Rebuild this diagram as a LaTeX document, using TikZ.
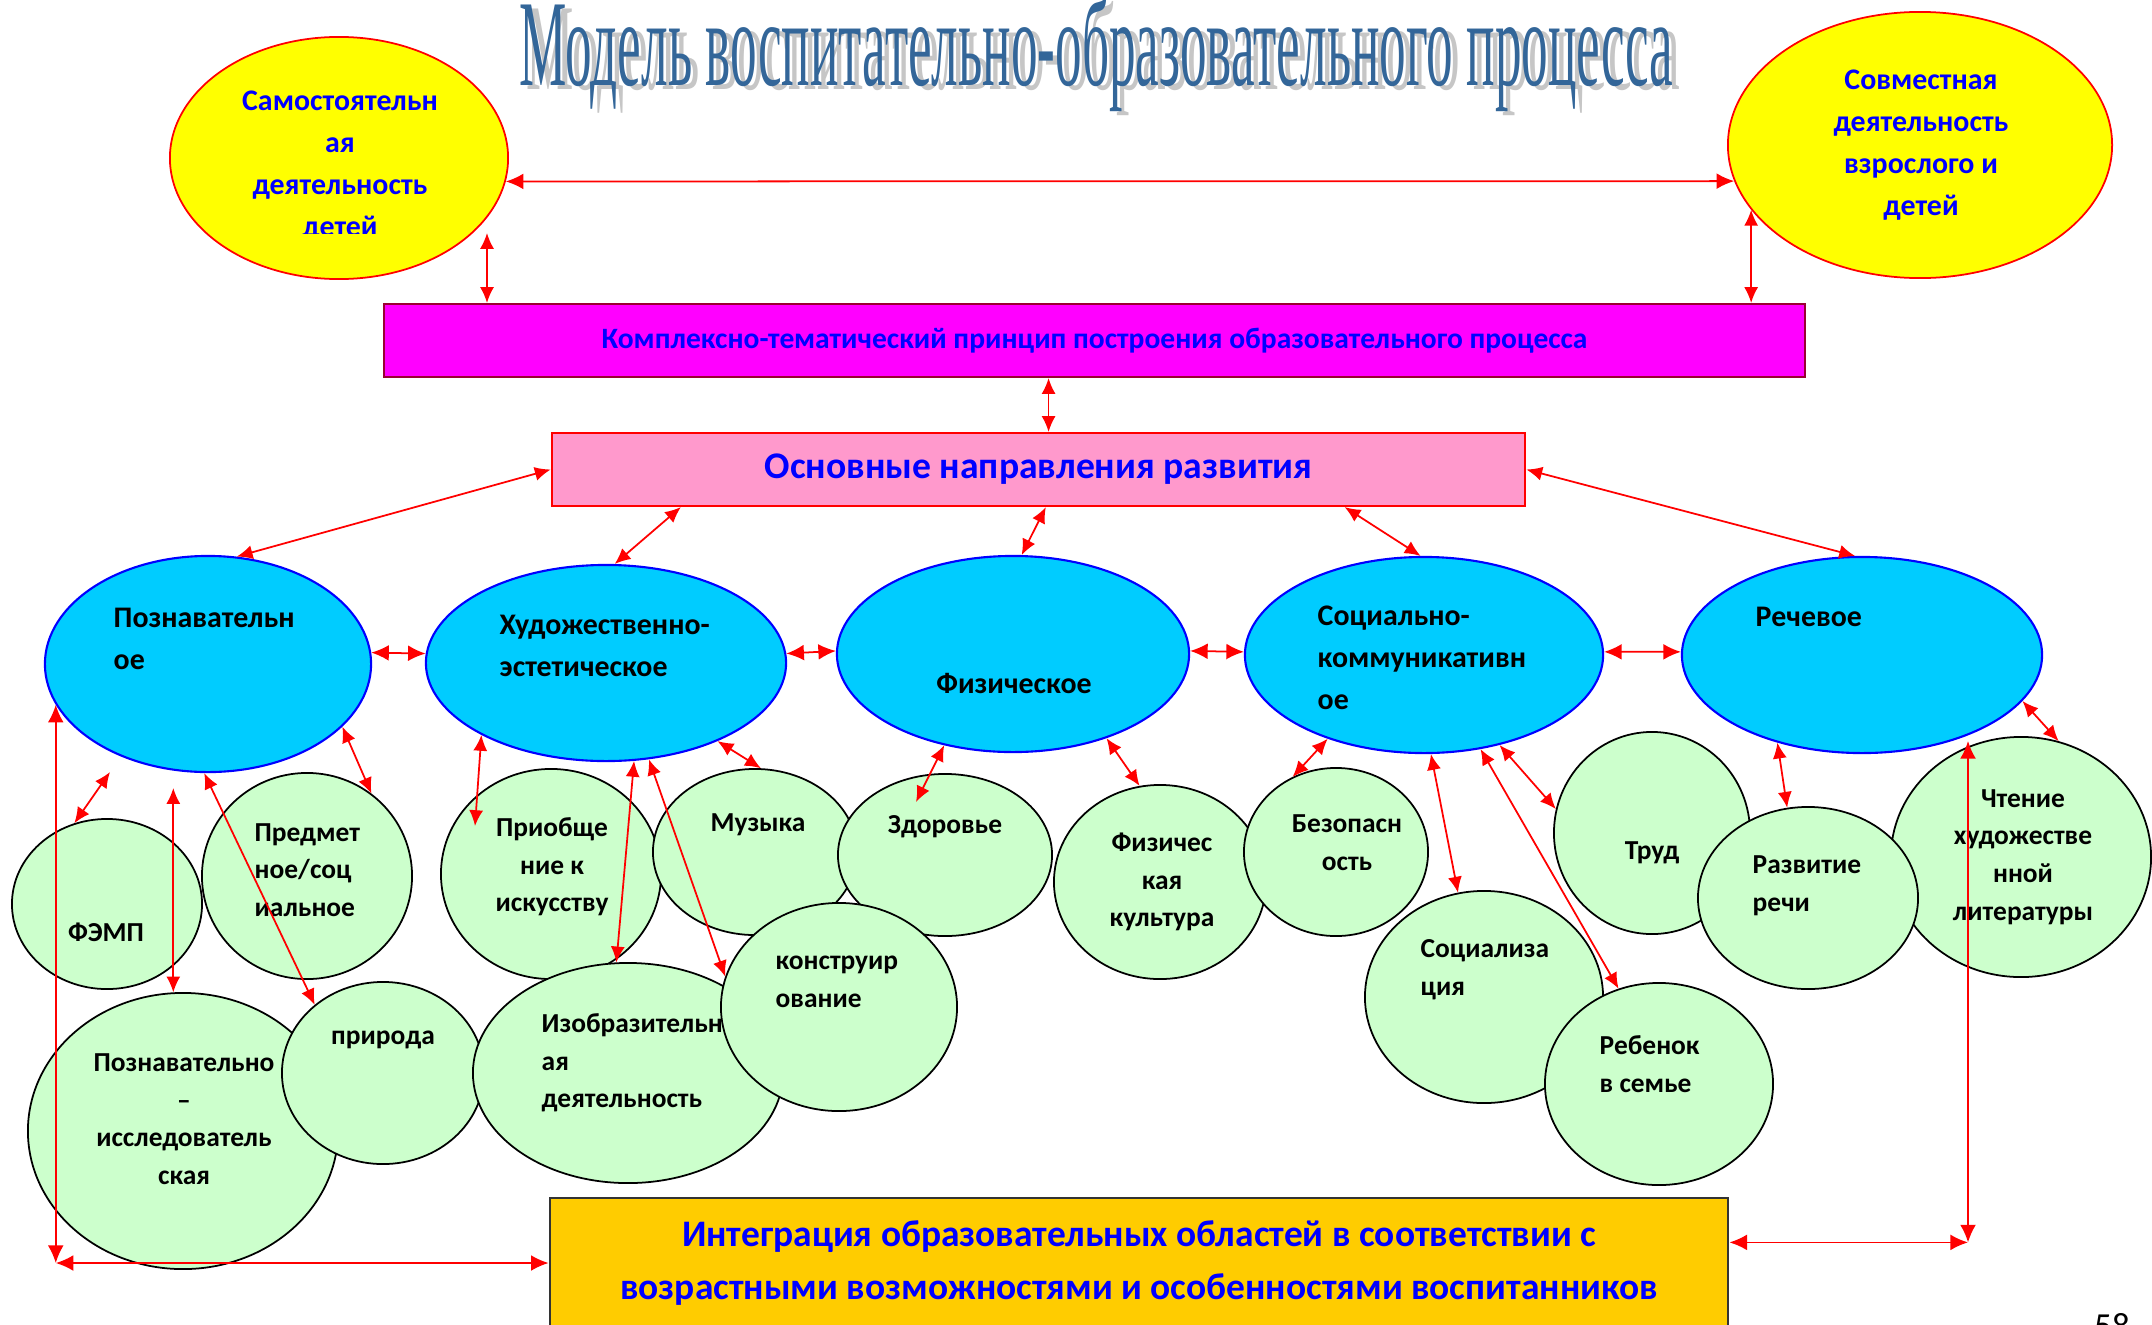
\documentclass[tikz,border=0pt]{standalone}
\usepackage{fontspec}
\setmainfont{Carlito}
\newfontfamily\titlefont{Liberation Serif}
\usepackage{graphicx}
\usetikzlibrary{arrows.meta,shapes.geometric}
\definecolor{skyblue}{HTML}{00CCFF}
\definecolor{lgreen}{HTML}{CCFFCC}
\definecolor{pinkbox}{HTML}{FF99CC}
\definecolor{goldbox}{HTML}{FFCC00}
\definecolor{lemon}{HTML}{FFFF00}
\definecolor{fuchsia}{HTML}{FF00FF}
\definecolor{titleblue}{HTML}{336699}
\definecolor{boxbrown}{HTML}{990033}
\definecolor{pureblue}{HTML}{0000FF}
\definecolor{purered}{HTML}{FF0000}

\begin{document}
\begin{tikzpicture}[x=0.01cm, y=-0.01cm,
  yell/.style={ellipse, draw=purered, fill=lemon, line width=0.5pt, inner sep=0pt},
  bell/.style={ellipse, draw=pureblue, fill=skyblue, line width=0.6pt, inner sep=0pt},
  gell/.style={ellipse, draw=black, fill=lgreen, line width=0.5pt, inner sep=0pt},
  btxt/.style={font=\bfseries\fontsize{8.5}{11.9}\selectfont, inner sep=0pt},
  gtxt/.style={font=\bfseries\fontsize{7.8}{10.7}\selectfont, align=center, inner sep=0pt},
  ytxt/.style={text=pureblue, font=\bfseries\fontsize{8.5}{11.9}\selectfont, align=center, inner sep=0pt},
  arr/.style={draw=purered, line width=0.5pt, >={Latex[length=4.5pt,width=4pt]}, <->},
  bigarr/.style={arr, >={Latex[length=5pt,width=4.5pt]}}]
\useasboundingbox (0,0) rectangle (2152,1324);

\node[anchor=base west, inner sep=0pt, text=gray!45] (titsh) at (526,90) {\resizebox{11.53cm}{0.88cm}{\titlefont Модель воспитательно-образовательного процесса}};
\node[anchor=base west, inner sep=0pt, text=titleblue] (title) at (519,85) {\resizebox{11.53cm}{0.88cm}{\titlefont Модель воспитательно-образовательного процесса}};

\node[yell, minimum width=3.38cm, minimum height=2.42cm] (samd) at (339,158) {};
\begin{scope}
\clip (170,40) rectangle (510,233);
\node[ytxt] (samdt) at (340,166) {Самостоятельн\\ая\\деятельность\\детей};
\end{scope}
\node[yell, minimum width=3.84cm, minimum height=2.66cm] (sovm) at (1920,145) {};
\node[ytxt] (sovmt) at (1921,145) {Совместная\\деятельность\\взрослого и\\детей};

\node[draw=boxbrown, fill=fuchsia, line width=0.6pt, minimum width=14.21cm, minimum height=0.73cm, inner sep=0pt, text=pureblue, font=\bfseries\fontsize{8.4}{10}\selectfont] (kompl) at (1094.5,340.5) {Комплексно-тематический принцип построения образовательного процесса};
\node[draw=purered, fill=pinkbox, line width=0.6pt, minimum width=9.73cm, minimum height=0.73cm, inner sep=0pt, text=pureblue, font=\bfseries\fontsize{10.7}{13}\selectfont] (osn) at (1038.5,469.5) {Основные направления развития};
\node[draw=black!80, fill=goldbox, line width=0.6pt, minimum width=11.78cm, minimum height=1.30cm, inner sep=0pt, align=center, text=pureblue, font=\bfseries\fontsize{10.65}{14.8}\selectfont] (integ) at (1139,1263) {Интеграция образовательных областей в соответствии с\\возрастными возможностями и особенностями воспитанников};

\node[bell, minimum width=3.26cm, minimum height=2.16cm] (pozn) at (208,664) {};
\node[btxt, anchor=west, align=left] (poznt) at (113,639) {Познавательн\\ое};
\node[bell, minimum width=3.60cm, minimum height=1.96cm] (hud) at (606,663) {};
\node[btxt, anchor=west, align=left] (hudt) at (499,646) {Художественно-\\эстетическое};
\node[bell, minimum width=3.52cm, minimum height=1.96cm] (fiz) at (1013,654) {};
\node[btxt] (fizt) at (1014,683) {Физическое};
\node[bell, minimum width=3.58cm, minimum height=1.96cm] (soc) at (1424,655) {};
\node[btxt, anchor=west, align=left] (soct) at (1317,658) {Социально-\\коммуникативн\\ое};
\node[bell, minimum width=3.60cm, minimum height=1.96cm] (rech) at (1862,655) {};
\node[btxt, anchor=west] (recht) at (1755,617) {Речевое};

\node[gell, minimum width=1.90cm, minimum height=1.70cm] (fem) at (107,904) {};
\node[gtxt] (femt) at (106,932) {ФЭМП};
\node[gell, minimum width=2.10cm, minimum height=2.06cm] (pred) at (307,876) {};
\node[gtxt, anchor=west, align=left] (predt) at (254,870) {Предмет\\ное/соц\\иальное};
\node[gell, minimum width=3.10cm, minimum height=2.76cm] (pi) at (183,1131) {};
\node[gtxt] (pit) at (184,1119) {Познавательно\\–\\исследователь\\ская};
\node[gell, minimum width=2.02cm, minimum height=1.82cm] (prir) at (383,1073) {};
\node[gtxt] (prirt) at (383,1040) {природа};
\node[gell, minimum width=2.20cm, minimum height=2.10cm] (priob) at (551,874) {};
\node[gtxt] (priobt) at (552,867) {Приобще\\ние к\\искусству};
\node[gell, minimum width=3.10cm, minimum height=2.20cm] (izo) at (628,1073) {};
\node[gtxt, anchor=west, align=left] (izot) at (541,1063) {Изобразительн\\ая\\деятельность};
\node[gell, minimum width=2.04cm, minimum height=1.66cm] (muz) at (755,852) {};
\node[gtxt] (muzt) at (758,825) {Музыка};
\node[gell, minimum width=2.14cm, minimum height=1.62cm] (zdor) at (945,855) {};
\node[gtxt] (zdort) at (945,827) {Здоровье};
\node[gell, minimum width=2.36cm, minimum height=2.08cm] (konstr) at (839,1007) {};
\node[gtxt, anchor=west, align=left] (konstrt) at (775,982) {конструир\\ование};
\node[gell, minimum width=2.12cm, minimum height=1.94cm] (fizk) at (1160,882) {};
\node[gtxt] (fizkt) at (1162,882) {Физичес\\кая\\культура};
\node[gell, minimum width=1.84cm, minimum height=1.68cm] (bez) at (1336,852) {};
\node[gtxt] (bezt) at (1347,843) {Безопасн\\ость};
\node[gell, minimum width=2.38cm, minimum height=2.12cm] (socz) at (1484,997) {};
\node[gtxt, anchor=west, align=left] (sczt) at (1420,970) {Социализа\\ция};
\node[gell, minimum width=2.28cm, minimum height=2.02cm] (reb) at (1659,1084) {};
\node[gtxt, anchor=west, align=left] (rebt) at (1599,1064) {Ребенок\\в семье};
\node[gell, minimum width=1.96cm, minimum height=2.02cm] (trud) at (1652,833) {};
\node[gtxt] (trudt) at (1652,853) {Труд};
\node[gell, minimum width=2.60cm, minimum height=2.40cm] (cht) at (2021,857) {};
\node[gtxt] (chtt) at (2023,857) {Чтение\\художестве\\нной\\литературы};
\node[gell, minimum width=2.20cm, minimum height=1.82cm] (razv) at (1808,898) {};
\node[gtxt, anchor=west, align=left] (razvt) at (1752,886) {Развитие\\речи};

\node[font=\fontsize{10}{12}\selectfont, anchor=north, inner sep=0pt] (pnum) at (2112,1313) {58};

\coordinate (sd) at (487,233);
\coordinate (c1) at (110,772);
\coordinate (c2) at (173,788);
\coordinate (c3) at (475,826);
\coordinate (c4) at (916,802);
\coordinate (c5) at (1968,741);

\draw[bigarr] (samd.-8) -- (sovm.191);
\draw[arr] (sd) -- (sd |- kompl.north);
\draw[arr] (sovm.201) -- (sovm.201 |- kompl.north);
\draw[arr] (osn.75) -- (osn.75 |- kompl.south);
\draw[arr] (osn.west) -- (pozn.75);
\draw[arr] (osn.186) -- (hud.85);
\draw[arr] (osn.-79) -- (fiz.85);
\draw[arr] (osn.-7) -- (soc.92);
\draw[arr] (osn.east) -- (rech.94);
\draw[bigarr] (pozn.4) -- (hud.177);
\draw[bigarr] (hud.3) -- (fiz.179);
\draw[bigarr] (fiz.1) -- (soc.179);
\draw[bigarr] (soc.1) -- (rech.179);
\draw[bigarr] (pozn.195) -- (pozn.195 |- integ.west);
\draw[bigarr] (integ.west -| pozn.195) -- (integ.west);
\draw[arr] (fem.112) -- (c1);
\draw[arr] (pi.94) -- (pi.94 |- c2);
\draw[arr] (pozn.-92) -- (prir.135);
\draw[arr] (pozn.-25) -- (pred.52);
\draw[arr] (hud.-150) -- (c3);
\draw[arr] (hud.-74) -- (izo.96);
\draw[arr] (hud.-66) -- (konstr.165);
\draw[arr] (hud.-35) -- (muz.86);
\draw[arr] (fiz.-127) -- (c4);
\draw[arr] (fiz.-42) -- (fizk.102);
\draw[arr] (soc.-139) -- (bez.120);
\draw[arr] (soc.-86) -- (socz.104);
\draw[arr] (soc.-59) -- (reb.113);
\draw[arr] (soc.-50) -- (trud.166);
\draw[arr] (rech.-134) -- (razv.103);
\draw[arr] (rech.-16) -- (cht.72);
\draw[bigarr] (c5) -- (c5 |- integ.2);
\draw[bigarr] (integ.2) -- (integ.2 -| c5);
\end{tikzpicture}
\end{document}
